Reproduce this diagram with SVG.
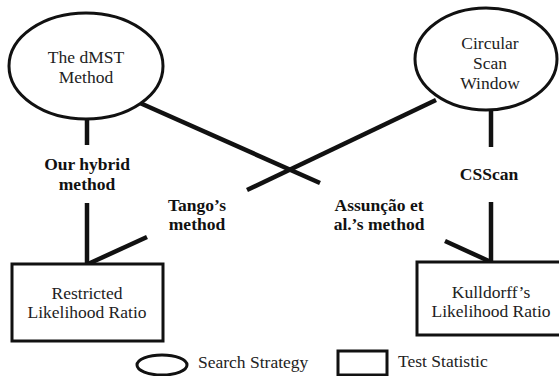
<svg xmlns="http://www.w3.org/2000/svg" width="559" height="376" viewBox="0 0 559 376">
  <style>
    .shape { fill: #ffffff; stroke: #111111; stroke-width: 3; }
    .link { fill: none; stroke: #111111; stroke-width: 4.5; stroke-linecap: butt; }
    text { font-family: 'Liberation Serif', 'DejaVu Serif', serif; font-size: 17.5px; fill: #222222; }
    .txt { text-anchor: middle; }
    .lbl { font-weight: bold; fill: #111111; text-anchor: middle; }
  </style>
  <rect width="559" height="376" fill="#ffffff"/>

  <!-- connectors -->
  <g id="connectors">
    <line class="link" x1="87" y1="118" x2="87" y2="145"/>
    <line class="link" x1="87" y1="203" x2="87" y2="264"/>
    <line class="link" x1="140" y1="103" x2="320" y2="183"/>
    <line class="link" x1="445" y1="241" x2="491" y2="262"/>
    <line class="link" x1="436" y1="100" x2="247" y2="190"/>
    <line class="link" x1="147" y1="237" x2="88" y2="264"/>
    <line class="link" x1="491" y1="110" x2="491" y2="147"/>
    <line class="link" x1="491" y1="202" x2="491" y2="262"/>
    <text class="lbl" x="87" y="170">Our hybrid</text>
    <text class="lbl" x="87" y="190">method</text>
    <text class="lbl" x="197" y="211">Tango’s</text>
    <text class="lbl" x="197" y="230">method</text>
    <text class="lbl" x="379" y="211">Assunção et</text>
    <text class="lbl" x="379" y="230">al.’s method</text>
    <text class="lbl" x="489" y="180">CSScan</text>
  </g>

  <!-- search strategies -->
  <g id="dmst">
    <ellipse class="shape" cx="86" cy="66" rx="77" ry="53"/>
    <text class="txt" x="86" y="63">The dMST</text>
    <text class="txt" x="86" y="83">Method</text>
  </g>
  <g id="csw">
    <ellipse class="shape" cx="486" cy="59" rx="71" ry="51"/>
    <text class="txt" x="490" y="49">Circular</text>
    <text class="txt" x="490" y="69">Scan</text>
    <text class="txt" x="490" y="89">Window</text>
  </g>

  <!-- test statistics -->
  <g id="restricted">
    <rect class="shape" x="12" y="264" width="151" height="77"/>
    <text class="txt" x="87" y="299">Restricted</text>
    <text class="txt" x="87" y="318">Likelihood Ratio</text>
  </g>
  <g id="kulldorff">
    <rect class="shape" x="417" y="262" width="150" height="73"/>
    <text class="txt" x="491" y="298">Kulldorff’s</text>
    <text class="txt" x="491" y="317">Likelihood Ratio</text>
  </g>

  <!-- legend -->
  <g id="legend">
    <ellipse class="shape" cx="162" cy="365" rx="25" ry="10"/>
    <text x="198" y="368">Search Strategy</text>
    <rect class="shape" x="338" y="351" width="49" height="24"/>
    <text x="398" y="367">Test Statistic</text>
  </g>
</svg>
